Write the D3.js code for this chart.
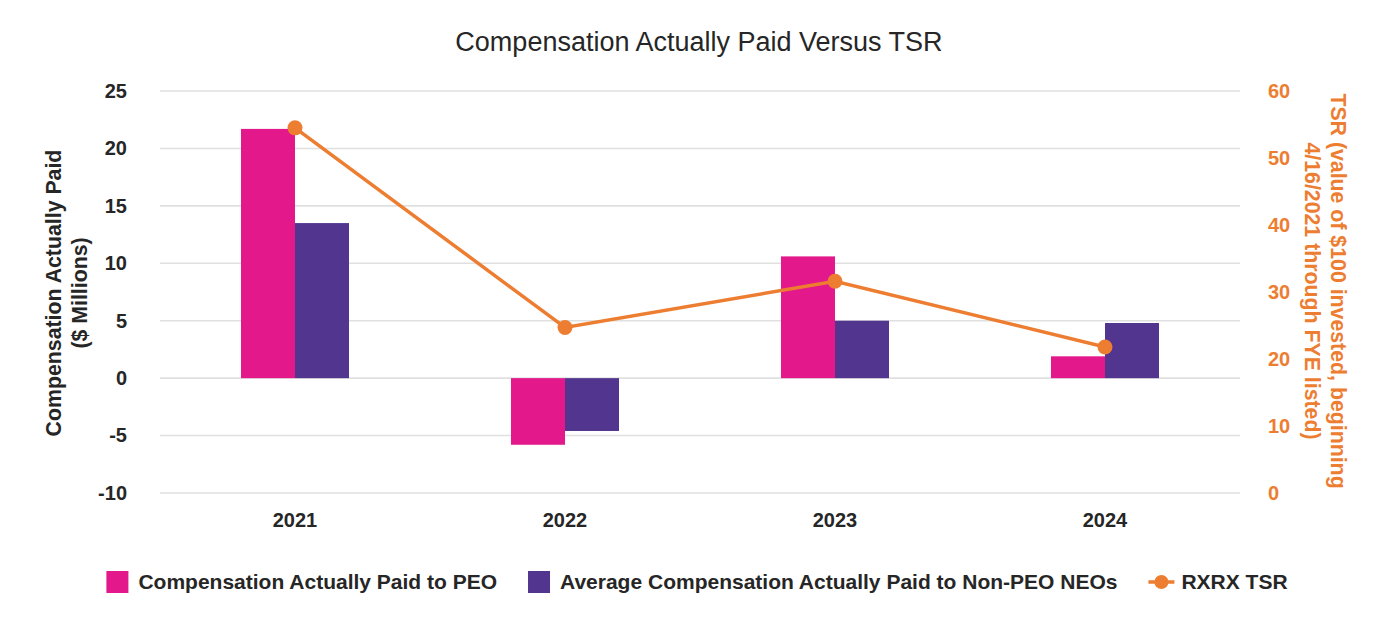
<!DOCTYPE html>
<html>
<head>
<meta charset="utf-8">
<script src="https://cdn.jsdelivr.net/npm/d3@7"></script>
<style>
  body { margin: 0; background: #fff; }
  text { font-family: "Liberation Sans", Arial, sans-serif; }
</style>
</head>
<body>
<section></section>
<script>
// data
const years = ["2021", "2022", "2023", "2024"];
const peoCap = [21.7, -5.8, 10.6, 1.9];
const neoCap = [13.5, -4.6, 5.0, 4.8];
const tsr = [54.5, 24.7, 31.6, 21.8];
const leftTicks = [-10, -5, 0, 5, 10, 15, 20, 25];
const rightTicks = [0, 10, 20, 30, 40, 50, 60];
const seriesNames = ["Compensation Actually Paid to PEO", "Average Compensation Actually Paid to Non-PEO NEOs", "RXRX TSR"];

const width = 1392;
const height = 632;
const marginTop = 91;
const marginBottom = 139;
const marginLeft = 160;
const marginRight = 152;

const pink = "#e2188b";
const purple = "#51358f";
const orange = "#ed7d31";
const dark = "#262626";

// scales
const x = d3.scaleBand()
    .domain(years)
    .range([marginLeft, width - marginRight]);

const xSub = d3.scaleBand()
    .domain(["peo", "neo"])
    .range([x.bandwidth() * 0.3, x.bandwidth() * 0.7]);

const y = d3.scaleLinear()
    .domain([-10, 25])
    .range([height - marginBottom, marginTop]);

const y2 = d3.scaleLinear()
    .domain([0, 60])
    .range([height - marginBottom, marginTop]);

const svg = d3.select("section")
    .append("svg")
    .attr("width", width)
    .attr("height", height)
    .attr("viewBox", [0, 0, width, height]);

// title
svg.append("text")
    .attr("x", 699)
    .attr("y", 51)
    .attr("text-anchor", "middle")
    .attr("font-size", 27)
    .attr("fill", dark)
    .text("Compensation Actually Paid Versus TSR");

// gridlines
svg.append("g")
    .selectAll("line")
    .data(leftTicks)
    .join("line")
    .attr("x1", marginLeft)
    .attr("x2", width - marginRight)
    .attr("y1", d => y(d))
    .attr("y2", d => y(d))
    .attr("stroke", "#e0e0e0")
    .attr("stroke-width", 1.6);

// left axis (plain hyphen for negatives, as in the source)
const gLeft = svg.append("g")
    .attr("transform", `translate(${marginLeft},0)`)
    .call(d3.axisLeft(y).tickValues(leftTicks).tickFormat(d => String(d)).tickSize(0).tickPadding(33));
gLeft.select(".domain").remove();
gLeft.selectAll("text")
    .attr("font-family", "Liberation Sans, Arial, sans-serif")
    .attr("font-size", 20)
    .attr("font-weight", "bold")
    .attr("fill", dark);

// right axis
const gRight = svg.append("g")
    .attr("transform", `translate(${width - marginRight},0)`)
    .call(d3.axisRight(y2).tickValues(rightTicks).tickSize(0).tickPadding(28));
gRight.select(".domain").remove();
gRight.selectAll("text")
    .attr("font-family", "Liberation Sans, Arial, sans-serif")
    .attr("font-size", 20)
    .attr("font-weight", "bold")
    .attr("fill", orange);

// bottom axis (year labels)
const gBottom = svg.append("g")
    .attr("transform", `translate(0,${height - marginBottom})`)
    .call(d3.axisBottom(x).tickSize(0).tickPadding(20));
gBottom.select(".domain").remove();
gBottom.selectAll("text")
    .attr("font-family", "Liberation Sans, Arial, sans-serif")
    .attr("font-size", 20)
    .attr("font-weight", "bold")
    .attr("fill", dark);

// bars
const barData = years.flatMap((yr, i) => [
    { year: yr, key: "peo", value: peoCap[i] },
    { year: yr, key: "neo", value: neoCap[i] }
]);

svg.append("g")
    .selectAll("rect")
    .data(barData)
    .join("rect")
    .attr("x", d => x(d.year) + xSub(d.key))
    .attr("width", xSub.bandwidth())
    .attr("y", d => y(Math.max(0, d.value)))
    .attr("height", d => Math.abs(y(d.value) - y(0)))
    .attr("fill", d => d.key === "peo" ? pink : purple);

// TSR line
const cx = d => x(d) + x.bandwidth() / 2;
const line = d3.line()
    .x((d, i) => cx(years[i]))
    .y(d => y2(d));

svg.append("path")
    .datum(tsr)
    .attr("d", line)
    .attr("fill", "none")
    .attr("stroke", orange)
    .attr("stroke-width", 3.5);

svg.append("g")
    .selectAll("circle")
    .data(tsr)
    .join("circle")
    .attr("cx", (d, i) => cx(years[i]))
    .attr("cy", d => y2(d))
    .attr("r", 7.5)
    .attr("fill", orange);

// axis titles
const leftTitle = svg.append("text")
    .attr("transform", "translate(66,293) rotate(-90)")
    .attr("text-anchor", "middle")
    .attr("font-size", 21.3)
    .attr("font-weight", "bold")
    .attr("fill", dark);
leftTitle.append("tspan").attr("x", 0).attr("y", -5).text("Compensation Actually Paid");
leftTitle.append("tspan").attr("x", 0).attr("y", 21).text("($ Millions)");

const rightTitle = svg.append("text")
    .attr("transform", "translate(1325,291) rotate(90)")
    .attr("text-anchor", "middle")
    .attr("font-size", 21.3)
    .attr("font-weight", "bold")
    .attr("fill", orange);
rightTitle.append("tspan").attr("x", 0).attr("y", -6).text("TSR (value of $100 invested, beginning");
rightTitle.append("tspan").attr("x", 0).attr("y", 20).text("4/16/2021 through FYE listed)");

// legend
const legend = svg.append("g");
const legendY = 582;
let lx = 0;
seriesNames.forEach((name, i) => {
    const g = legend.append("g").attr("transform", `translate(${lx},0)`);
    let sw;
    if (i < 2) {
        g.append("rect")
            .attr("x", 0)
            .attr("y", legendY - 11)
            .attr("width", 22)
            .attr("height", 22)
            .attr("fill", i === 0 ? pink : purple);
        sw = 32;
    } else {
        g.append("line")
            .attr("x1", 0).attr("x2", 26)
            .attr("y1", legendY).attr("y2", legendY)
            .attr("stroke", orange).attr("stroke-width", 3.5);
        g.append("circle")
            .attr("cx", 13).attr("cy", legendY).attr("r", 7)
            .attr("fill", orange);
        sw = 33;
    }
    const t = g.append("text")
        .attr("x", sw)
        .attr("y", legendY)
        .attr("dy", "0.35em")
        .attr("font-size", 21)
        .attr("font-weight", "bold")
        .attr("fill", dark)
        .text(name);
    lx += sw + t.node().getComputedTextLength() + 31;
});
const legendWidth = lx - 31;
legend.attr("transform", `translate(${(101 + 1293) / 2 - legendWidth / 2},0)`);
</script>
</body>
</html>
